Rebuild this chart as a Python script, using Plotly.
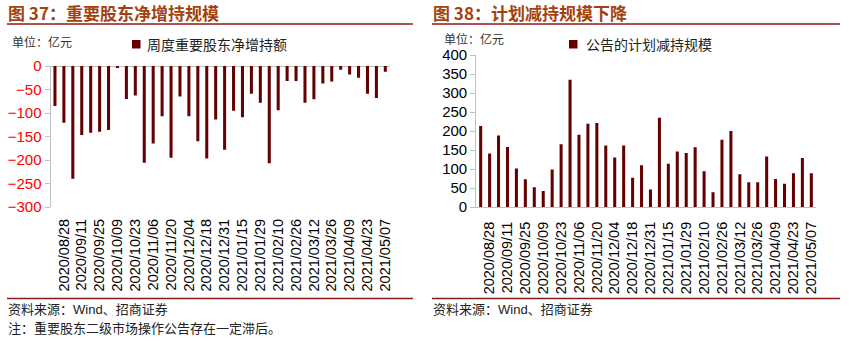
import plotly.graph_objects as go

# Weekly trading-week end dates (2020/08/21 - 2021/05/07)
dates = [
    "2020/08/21", "2020/08/28", "2020/09/04", "2020/09/11", "2020/09/18", "2020/09/25",
    "2020/09/30", "2020/10/09", "2020/10/16", "2020/10/23", "2020/10/30", "2020/11/06",
    "2020/11/13", "2020/11/20", "2020/11/27", "2020/12/04", "2020/12/11", "2020/12/18",
    "2020/12/25", "2020/12/31", "2021/01/08", "2021/01/15", "2021/01/22", "2021/01/29",
    "2021/02/05", "2021/02/10", "2021/02/19", "2021/02/26", "2021/03/05", "2021/03/12",
    "2021/03/19", "2021/03/26", "2021/04/02", "2021/04/09", "2021/04/16", "2021/04/23",
    "2021/04/30", "2021/05/07",
]

# 周度重要股东净增持额（亿元）
net_increase = [
    -85, -121, -240, -147, -142, -140, -136, -3, -70, -63,
    -206, -165, -107, -195, -65, -107, -160, -197, -114, -178,
    -95, -109, -59, -78, -207, -94, -32, -32, -78, -71,
    -37, -33, -8, -18, -25, -59, -68, -12,
]

# 公告的计划减持规模（亿元）
planned_reduction = [
    213, 141, 188, 158, 101, 73, 52, 42, 99, 165,
    335, 190, 219, 221, 162, 130, 162, 77, 110, 46,
    235, 114, 146, 142, 157, 94, 39, 177, 200, 86,
    65, 65, 133, 74, 61, 89, 129, 89,
]

tick_dates = dates[1::2]

W, H = 849, 341
BAR = "#650000"
AXIS = "#BFBFBF"
TITLE = "#A3420E"
RULE = "#8E1B1B"
CJK = "Noto Sans CJK SC"
LAT = "Liberation Sans"


def fx(x):
    return x / W


def fy(y):
    return 1 - y / H


fig = go.Figure()
fig.add_trace(go.Bar(x=dates, y=net_increase, marker_color=BAR, marker_line_width=0,
                     xaxis="x", yaxis="y", showlegend=False,
                     name="周度重要股东净增持额"))
fig.add_trace(go.Bar(x=dates, y=planned_reduction, marker_color=BAR, marker_line_width=0,
                     xaxis="x2", yaxis="y2", showlegend=False,
                     name="公告的计划减持规模"))

xcommon = dict(type="category", tickmode="array", tickvals=tick_dates, ticktext=tick_dates,
               tickangle=-90, tickfont=dict(family=LAT, size=14.5, color="#000000"),
               ticks="", ticklabelstandoff=8, showgrid=False, zeroline=False,
               automargin=False, fixedrange=True)
ycommon = dict(showgrid=False, showline=True, linecolor=AXIS, linewidth=1,
               ticks="outside", ticklen=5, tickcolor=AXIS, dtick=50,
               automargin=False, fixedrange=True)

fig.update_layout(
    width=W, height=H,
    margin=dict(l=0, r=0, t=0, b=0),
    paper_bgcolor="white", plot_bgcolor="white",
    bargap=0.66,
    xaxis=dict(xcommon, domain=[fx(50.5), fx(389.8)], anchor="y", showline=False),
    yaxis=dict(ycommon, domain=[fy(207), fy(66)], range=[-300, 0], anchor="x",
               tickfont=dict(family=LAT, size=15, color="#FF0000"),
               zeroline=True, zerolinecolor=AXIS, zerolinewidth=1),
    xaxis2=dict(xcommon, domain=[fx(476.2), fx(815.8)], anchor="y2",
                showline=True, linecolor=AXIS, linewidth=1),
    yaxis2=dict(ycommon, domain=[fy(207), fy(55)], range=[0, 400], anchor="x2",
                tickfont=dict(family=LAT, size=15, color="#000000"),
                zeroline=False),
)

shapes = []
annotations = []

# Panel titles with rules beneath, and source rules at the bottom
for x0, x1, title in [(7, 413, "图 37：重要股东净增持规模"),
                      (432, 840, "图 38：计划减持规模下降")]:
    annotations.append(dict(x=fx(x0 - 1), y=fy(13), xref="paper", yref="paper",
                            xanchor="left", yanchor="middle", showarrow=False,
                            text="<b>%s</b>" % title,
                            font=dict(family=CJK, size=17, color=TITLE)))
    shapes.append(dict(type="line", xref="paper", yref="paper",
                       x0=fx(x0), x1=fx(x1), y0=fy(24), y1=fy(24),
                       line=dict(color=RULE, width=1.5)))
    shapes.append(dict(type="line", xref="paper", yref="paper",
                       x0=fx(x0), x1=fx(x1), y0=fy(298.5), y1=fy(298.5),
                       line=dict(color=RULE, width=1.5)))
    annotations.append(dict(x=fx(x0), y=fy(308.5), xref="paper", yref="paper",
                            xanchor="left", yanchor="middle", showarrow=False,
                            borderpad=0,
                            text="资料来源：<span style='font-family:%s'>Wind</span>、招商证券" % LAT,
                            font=dict(family=CJK, size=13, color="#222222")))

# Unit labels
for x0, y0 in [(11, 41), (443, 38.5)]:
    annotations.append(dict(x=fx(x0), y=fy(y0), xref="paper", yref="paper",
                            xanchor="left", yanchor="middle", showarrow=False,
                            borderpad=0,
                            text="单位：亿元",
                            font=dict(family=CJK, size=12, color="#333333")))

# Legend keys
for sx, tx, label in [(132, 145, "周度重要股东净增持额"),
                      (569, 584, "公告的计划减持规模")]:
    shapes.append(dict(type="rect", xref="paper", yref="paper",
                       x0=fx(sx), x1=fx(sx + 8.5), y0=fy(40), y1=fy(48.5),
                       line=dict(width=0), fillcolor=BAR))
    annotations.append(dict(x=fx(tx), y=fy(44), xref="paper", yref="paper",
                            xanchor="left", yanchor="middle", showarrow=False,
                            text=label,
                            font=dict(family=CJK, size=14, color="#222222")))

annotations.append(dict(x=fx(7), y=fy(327.5), xref="paper", yref="paper",
                        xanchor="left", yanchor="middle", showarrow=False,
                        borderpad=0,
                        text="注：重要股东二级市场操作公告存在一定滞后。",
                        font=dict(family=CJK, size=13, color="#222222")))

fig.update_layout(shapes=shapes, annotations=annotations)

fig.write_html("out.html")
